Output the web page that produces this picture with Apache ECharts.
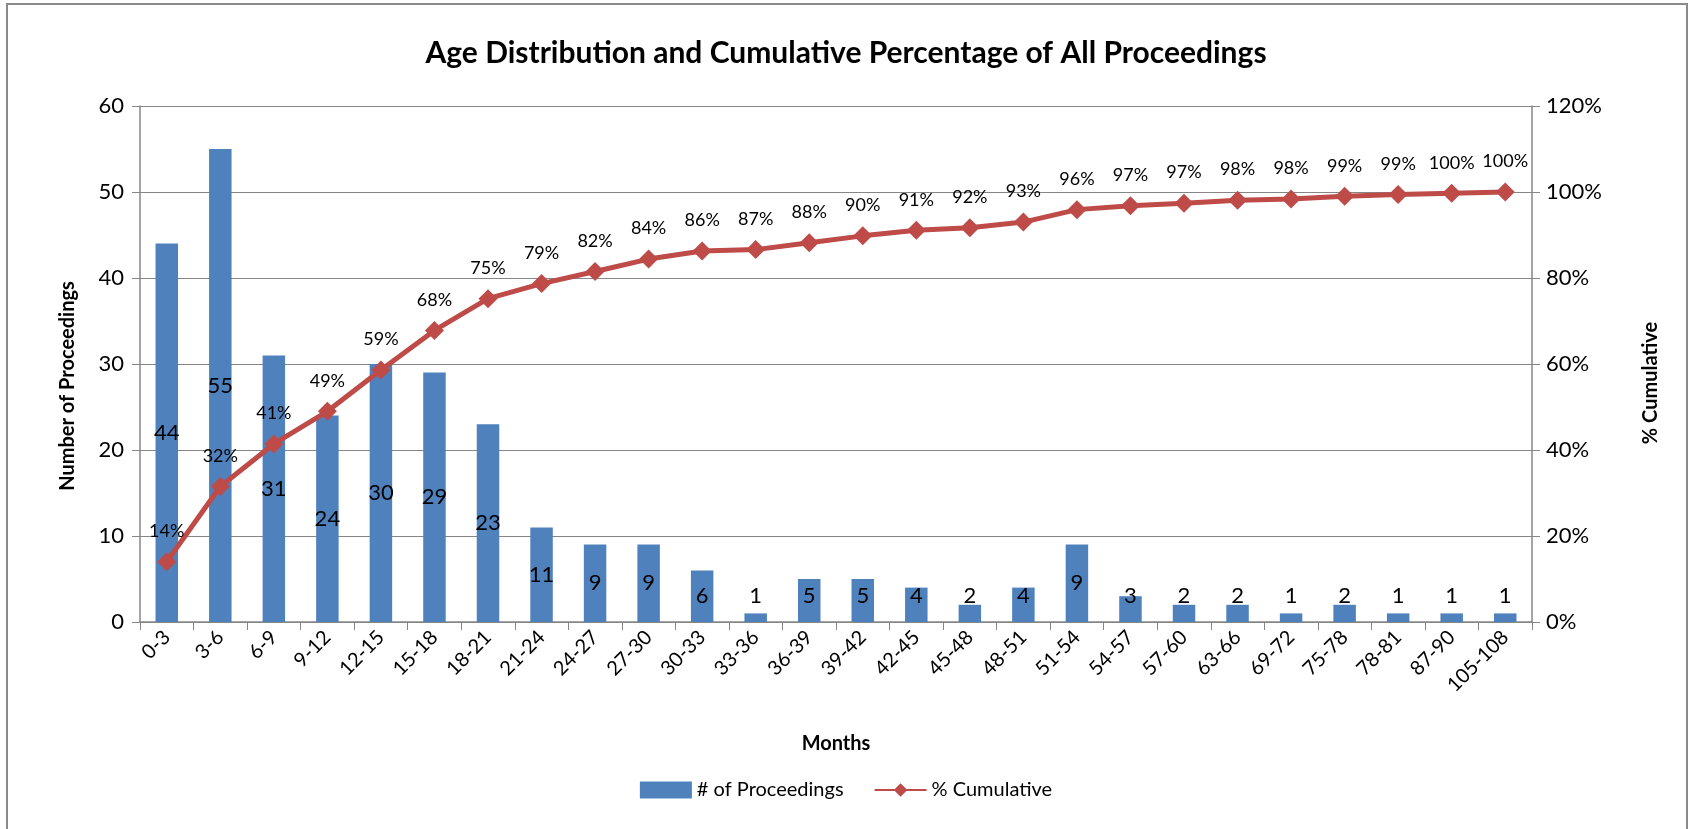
<!DOCTYPE html>
<html><head><meta charset="utf-8">
<script src="https://cdn.jsdelivr.net/npm/echarts@6/dist/echarts.min.js"></script>
<style>html,body{margin:0;padding:0;background:#fff}#c{width:1692px;height:829px}</style>
</head><body><div id="c"></div>
<script>
const categories = ['0-3','3-6','6-9','9-12','12-15','15-18','18-21','21-24','24-27','27-30','30-33','33-36','36-39','39-42','42-45','45-48','48-51','51-54','54-57','57-60','63-66','69-72','75-78','78-81','87-90','105-108'];
const proceedings = [44,55,31,24,30,29,23,11,9,9,6,1,5,5,4,2,4,9,3,2,2,1,2,1,1,1];
const cumulative = [0.140,0.315,0.414,0.490,0.586,0.678,0.752,0.787,0.815,0.844,0.863,0.866,0.882,0.898,0.911,0.917,0.930,0.959,0.968,0.974,0.981,0.984,0.990,0.994,0.997,1.000];
const leftTicks = {min:0, max:60, interval:10};
const rightTicks = {min:0, max:1.2, interval:0.2};

const FONT = 'Lato, "Open Sans", sans-serif';
const chart = echarts.init(document.getElementById('c'));
const barData = proceedings.map(v => v <= 6 ? {value:v, label:{position:'insideBottom', distance:15}} : v);
const axisTitleStyle = {fontFamily:FONT, fontSize:20, fontWeight:'bold', fill:'#000', align:'center', verticalAlign:'middle'};
chart.setOption({
  animation:false,
  textStyle:{fontFamily:FONT},
  graphic:[
    {type:'rect', shape:{x:7,y:4,width:1680,height:830}, style:{fill:'none', stroke:'#8a8a8a', lineWidth:2}, silent:true},
    {type:'text', x:68, y:386, rotation:Math.PI/2, style:Object.assign({text:'Number of Proceedings'}, axisTitleStyle)},
    {type:'text', x:1651, y:383, rotation:Math.PI/2, style:Object.assign({text:'% Cumulative'}, axisTitleStyle)}
  ],
  title:{text:'Age Distribution and Cumulative Percentage of All Proceedings', left:'center', top:33,
    textStyle:{fontFamily:FONT, fontSize:30, fontWeight:'bold', color:'#000'}},
  legend:{bottom:24, left:'center', itemGap:30, itemWidth:52, itemHeight:17,
    textStyle:{fontFamily:FONT, fontSize:20, color:'#000'},
    data:[{name:'# of Proceedings', icon:'rect'}, {name:'% Cumulative'}]},
  grid:{left:140, right:160, top:106, bottom:207},
  xAxis:{type:'category', data:categories, name:'Months', nameLocation:'middle', nameGap:112,
    nameTextStyle:{fontFamily:FONT, fontSize:20, fontWeight:'bold', color:'#000'},
    axisLine:{lineStyle:{color:'#868686', width:1.5}},
    axisTick:{show:true, length:8, lineStyle:{color:'#868686'}},
    axisLabel:{rotate:45, fontSize:20, color:'#000', interval:0, margin:12}},
  yAxis:[
    {type:'value', min:leftTicks.min, max:leftTicks.max, interval:leftTicks.interval,
     axisLine:{show:true, lineStyle:{color:'#868686', width:1.5}},
     axisTick:{show:true, length:8, lineStyle:{color:'#868686'}},
     axisLabel:{fontSize:22, color:'#000', margin:16},
     splitLine:{lineStyle:{color:'#868686', width:1.2}}},
    {type:'value', min:rightTicks.min, max:rightTicks.max, interval:rightTicks.interval,
     axisLine:{show:true, lineStyle:{color:'#868686', width:1.5}},
     axisTick:{show:true, length:8, lineStyle:{color:'#868686'}},
     axisLabel:{fontSize:22, color:'#000', margin:14, formatter:v=>Math.round(v*100)+'%'},
     splitLine:{show:false}}
  ],
  series:[
    {name:'# of Proceedings', type:'bar', data:barData, barWidth:'42%', yAxisIndex:0,
     itemStyle:{color:'#4F81BD'},
     label:{show:true, position:'inside', fontSize:22, color:'#000', fontFamily:FONT}},
    {name:'% Cumulative', type:'line', data:cumulative, yAxisIndex:1,
     symbol:'diamond', symbolSize:19,
     lineStyle:{color:'#BE4B48', width:5}, itemStyle:{color:'#BE4B48'},
     label:{show:true, position:'top', distance:12, fontSize:18, color:'#000', fontFamily:FONT,
       formatter:p=>Math.round(p.value*100)+'%'}}
  ]
});
</script></body></html>
